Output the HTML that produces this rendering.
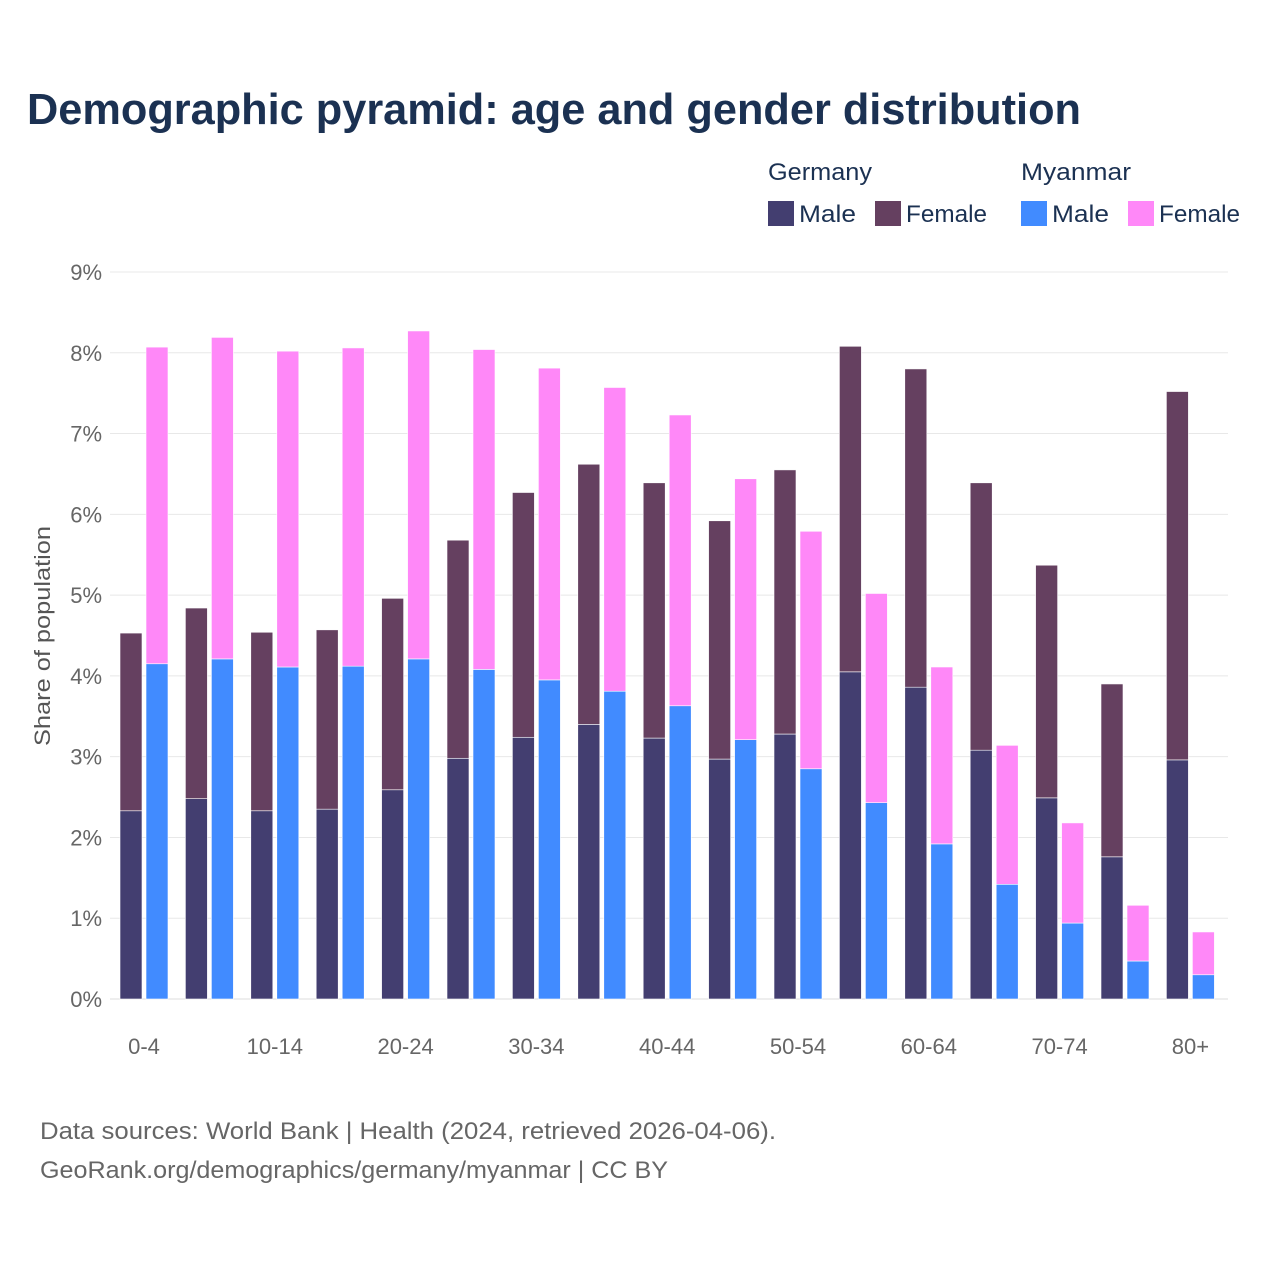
<!DOCTYPE html>
<html><head><meta charset="utf-8"><style>
body{margin:0;background:#fff;font-family:"Liberation Sans",sans-serif}
svg text{font-family:"Liberation Sans",sans-serif}
</style></head><body>
<svg width="1280" height="1280">
<rect width="1280" height="1280" fill="#fff"/>
<text x="27" y="124" font-size="44" font-weight="bold" fill="#1b3152" textLength="1054" lengthAdjust="spacingAndGlyphs">Demographic pyramid: age and gender distribution</text>
<g font-size="24" fill="#1b3152">
<text x="768" y="180" textLength="104" lengthAdjust="spacingAndGlyphs">Germany</text>
<text x="1021" y="180" textLength="110" lengthAdjust="spacingAndGlyphs">Myanmar</text>
<rect x="768" y="201" width="26" height="25" fill="#433e70"/>
<text x="799" y="222" textLength="57" lengthAdjust="spacingAndGlyphs">Male</text>
<rect x="875" y="201" width="26" height="25" fill="#654060"/>
<text x="906" y="222" textLength="81" lengthAdjust="spacingAndGlyphs">Female</text>
<rect x="1021" y="201" width="26" height="25" fill="#418bff"/>
<text x="1052" y="222" textLength="57" lengthAdjust="spacingAndGlyphs">Male</text>
<rect x="1128" y="201" width="26" height="25" fill="#ff88f8"/>
<text x="1159" y="222" textLength="81" lengthAdjust="spacingAndGlyphs">Female</text>
</g>
<g id="grid"></g>
<g id="bars"></g>
<g id="xt"></g>
<text transform="translate(50,636) rotate(-90)" text-anchor="middle" font-size="22" fill="#555" textLength="220" lengthAdjust="spacingAndGlyphs">Share of population</text>
<text x="40" y="1139" font-size="24" fill="#666" textLength="736" lengthAdjust="spacingAndGlyphs">Data sources: World Bank | Health (2024, retrieved 2026-04-06).</text>
<text x="40" y="1178" font-size="24" fill="#666" textLength="628" lengthAdjust="spacingAndGlyphs">GeoRank.org/demographics/germany/myanmar | CC BY</text>
</svg>
<script>
const categories=["0-4","5-9","10-14","15-19","20-24","25-29","30-34","35-39","40-44","45-49","50-54","55-59","60-64","65-69","70-74","75-79","80+"];
const deMale=[2.33,2.48,2.33,2.35,2.59,2.98,3.24,3.40,3.23,2.97,3.28,4.05,3.86,3.08,2.49,1.76,2.96];
const deFemale=[2.20,2.36,2.21,2.22,2.37,2.70,3.03,3.22,3.16,2.95,3.27,4.03,3.94,3.31,2.88,2.14,4.56];
const mmMale=[4.15,4.21,4.11,4.12,4.21,4.08,3.95,3.81,3.63,3.21,2.85,2.43,1.92,1.42,0.94,0.47,0.30];
const mmFemale=[3.92,3.98,3.91,3.94,4.06,3.96,3.86,3.76,3.60,3.23,2.94,2.59,2.19,1.72,1.24,0.69,0.53];
const yTicks=[0,1,2,3,4,5,6,7,8,9];
const NS="http://www.w3.org/2000/svg";
const y=v=>999-v*80.78;
const xc=i=>144+i*65.4;
function mk(tag,attrs,parent){const e=document.createElementNS(NS,tag);for(const k in attrs)e.setAttribute(k,attrs[k]);parent.appendChild(e);return e;}
const grid=document.getElementById('grid');
yTicks.forEach(t=>{
 const l=mk('line',{x1:110,x2:1228,y1:y(t),y2:y(t),stroke:t===0?'#ddd':'#e8e8e8','stroke-width':1},grid);
 
 
 const tx=mk('text',{x:102,y:y(t)+8,'text-anchor':'end','font-size':22,fill:'#666'},grid);
 tx.textContent=t+'%';
 
 
});
const bars=document.getElementById('bars');
function bar(x,v0,v1,col,name){
 const r=mk('rect',{x:x,y:y(v1),width:22,height:Math.max(0,y(v0)-y(v1)),fill:col,stroke:'#fff','stroke-width':0.6},bars);
 
 
}
categories.forEach((c,i)=>{
 const x=xc(i);
 bar(x-24,0,deMale[i],'#433e70','bar-germany-male');
 bar(x-24,deMale[i],deMale[i]+deFemale[i],'#654060','bar-germany-female');
 bar(x+2,0,mmMale[i],'#418bff','bar-myanmar-male');
 bar(x+2,mmMale[i],mmMale[i]+mmFemale[i],'#ff88f8','bar-myanmar-female');
 if(i%2===0){
  const t=mk('text',{x:x,y:1054,'text-anchor':'middle','font-size':22,fill:'#666'},document.getElementById('xt'));
  t.textContent=c;
  
  
 }
});
</script>
</body></html>
